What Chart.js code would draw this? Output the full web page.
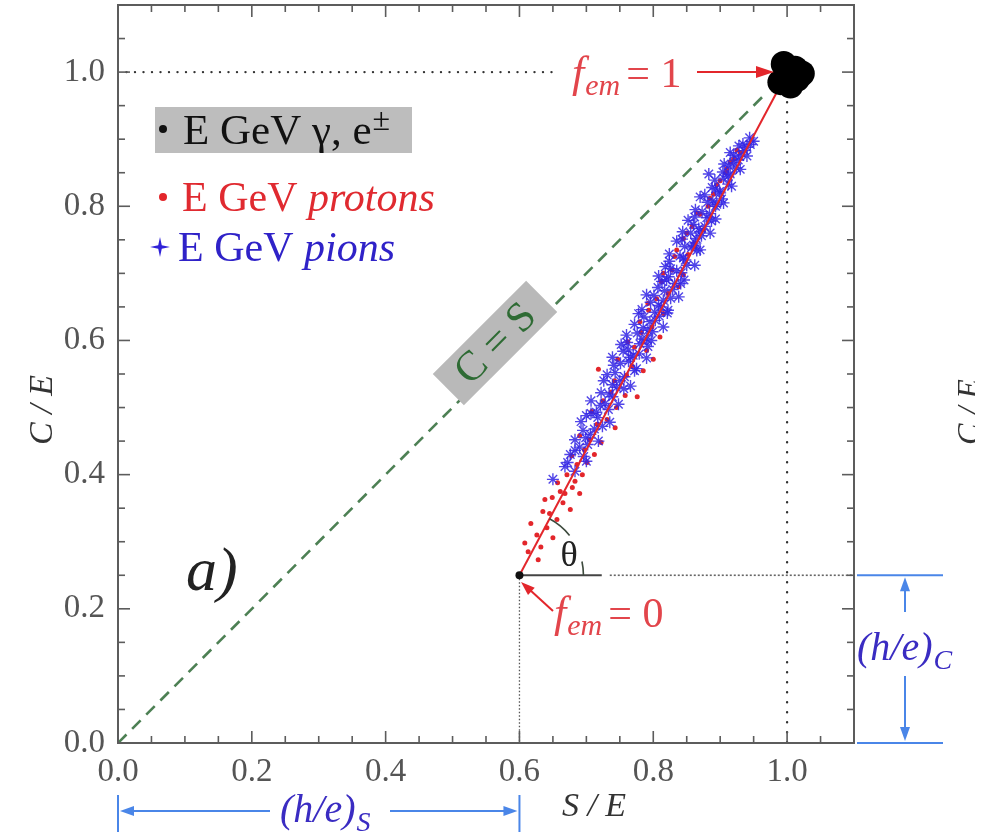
<!DOCTYPE html>
<html>
<head>
<meta charset="utf-8">
<script src="https://cdn.jsdelivr.net/npm/chart.js@4"></script>
<style>
  html, body { margin: 0; padding: 0; background: #fff; overflow: hidden; }
  canvas { display: block; }
</style>
</head>
<body>
<canvas id="chart" width="989" height="832"></canvas>
<script>
// ---- data ----
const xTicks = [0, 0.2, 0.4, 0.6, 0.8, 1.0];
const yTicks = [0, 0.2, 0.4, 0.6, 0.8, 1.0];

const emPoints = [[0.995,1.012],[1.012,1.005],[1.022,0.998],[0.99,0.985],[1.005,0.98],[0.998,0.998],[1.015,0.99]];

const protonPoints = [
  [0.628,0.273],[0.613,0.285],[0.632,0.292],[0.608,0.298],[0.650,0.306],[0.626,0.310],[0.641,0.321],[0.617,0.327],
  [0.656,0.333],[0.645,0.342],[0.635,0.345],[0.676,0.348],[0.665,0.358],[0.638,0.363],[0.649,0.366],[0.668,0.372],
  [0.690,0.372],[0.661,0.375],[0.679,0.381],[0.657,0.388],[0.683,0.390],[0.671,0.400],[0.694,0.400],[0.686,0.415],
  [0.701,0.418],[0.678,0.428],[0.712,0.430],[0.697,0.437],[0.722,0.448],[0.705,0.452],[0.690,0.458],[0.743,0.470],
  [0.716,0.475],[0.731,0.482],[0.708,0.494],[0.745,0.500],[0.725,0.510],[0.776,0.516],[0.758,0.518],[0.737,0.523],
  [0.742,0.540],[0.760,0.548],[0.785,0.555],[0.718,0.557],[0.768,0.562],[0.747,0.572],[0.800,0.572],[0.790,0.585],
  [0.772,0.590],[0.762,0.598],[0.810,0.605],[0.782,0.612],[0.798,0.620],[0.780,0.628],[0.815,0.640],[0.793,0.645],
  [0.792,0.655],[0.805,0.662],[0.822,0.670],[0.838,0.680],[0.812,0.688],[0.845,0.698],[0.815,0.700],[0.828,0.705],
  [0.832,0.725],[0.852,0.728],[0.835,0.735],[0.862,0.745],[0.845,0.752],[0.850,0.760],[0.875,0.765],[0.858,0.770],
  [0.870,0.788],[0.866,0.790],[0.882,0.800],[0.885,0.812],[0.890,0.818],[0.895,0.832],[0.900,0.838],[0.908,0.850],
  [0.910,0.856],[0.915,0.866],[0.920,0.870],[0.930,0.880],[0.925,0.884]
];

const pionPoints = [
  [0.650,0.393],[0.683,0.405],[0.672,0.418],[0.696,0.427],[0.683,0.436],[0.702,0.445],[0.683,0.452],[0.706,0.460],
  [0.695,0.466],[0.724,0.472],[0.692,0.479],[0.717,0.485],[0.707,0.491],[0.733,0.497],[0.721,0.503],[0.707,0.510],
  [0.739,0.516],[0.722,0.522],[0.756,0.528],[0.739,0.534],[0.726,0.540],[0.757,0.546],[0.743,0.552],[0.775,0.558],
  [0.741,0.563],[0.763,0.569],[0.739,0.575],[0.779,0.580],[0.763,0.586],[0.792,0.591],[0.761,0.597],[0.783,0.602],
  [0.760,0.608],[0.799,0.613],[0.785,0.619],[0.772,0.624],[0.803,0.630],[0.786,0.635],[0.821,0.641],[0.783,0.646],
  [0.808,0.652],[0.796,0.657],[0.826,0.663],[0.790,0.668],[0.817,0.674],[0.807,0.679],[0.841,0.685],[0.820,0.690],
  [0.808,0.696],[0.842,0.701],[0.826,0.707],[0.850,0.712],[0.824,0.718],[0.845,0.723],[0.824,0.729],[0.865,0.734],
  [0.847,0.740],[0.863,0.745],[0.843,0.751],[0.872,0.756],[0.844,0.762],[0.868,0.767],[0.860,0.773],[0.887,0.778],
  [0.862,0.784],[0.884,0.789],[0.863,0.795],[0.893,0.800],[0.881,0.806],[0.902,0.811],[0.877,0.817],[0.899,0.822],
  [0.888,0.828],[0.912,0.833],[0.892,0.839],[0.912,0.845],[0.904,0.851],[0.924,0.857],[0.906,0.863],[0.927,0.869],
  [0.920,0.876],[0.936,0.883],[0.928,0.890],[0.950,0.897],
  [0.668,0.412],[0.690,0.441],[0.712,0.468],[0.700,0.488],[0.728,0.506],[0.745,0.530],[0.731,0.549],[0.751,0.566],
  [0.770,0.578],[0.752,0.594],[0.776,0.611],[0.795,0.628],[0.778,0.640],[0.812,0.650],[0.801,0.667],[0.829,0.676],
  [0.813,0.688],[0.835,0.704],[0.818,0.710],[0.840,0.726],[0.857,0.738],[0.835,0.748],[0.856,0.760],[0.877,0.770],
  [0.852,0.779],[0.873,0.792],[0.889,0.808],[0.870,0.814],[0.893,0.826],[0.905,0.842],[0.883,0.848],[0.913,0.860],
  [0.929,0.874],[0.915,0.880],[0.940,0.888],[0.755,0.584],[0.790,0.602],[0.809,0.636],[0.823,0.695],[0.864,0.752],
  [0.700,0.420],[0.718,0.450],[0.735,0.478],[0.748,0.505],[0.766,0.532],[0.772,0.555],[0.790,0.574],[0.797,0.600],
  [0.815,0.620],[0.822,0.645],[0.838,0.665],[0.846,0.690],[0.862,0.712],[0.870,0.735],[0.885,0.760],[0.893,0.781],
  [0.905,0.805],[0.917,0.830],[0.930,0.855],[0.940,0.875],[0.945,0.892],
  [0.676,0.430],[0.699,0.455],[0.715,0.493],[0.734,0.520],[0.750,0.540],[0.766,0.575],[0.780,0.595],[0.792,0.615],
  [0.802,0.642],[0.815,0.660],[0.832,0.685],[0.848,0.720],[0.860,0.742],[0.870,0.762],[0.880,0.783],[0.895,0.803],
  [0.900,0.820],[0.915,0.848],[0.920,0.865],[0.934,0.893],[0.944,0.902]
];

const diagLine   = [[0,0],[0.965,0.965]];      // C = S
const fitLine    = [[0.6,0.25],[0.99,0.98]];   // f_em 0 -> 1
const baseLine   = [[0.6,0.25],[0.723,0.25]];
const hcDotted   = [[0.735,0.25],[1.1,0.25]];
const oneDotted  = [[0,1],[0.65,1]];
const xOneDotted = [[1,0.955],[1,0]];
const hsDotted   = [[0.6,0.25],[0.6,0]];
const originPt   = [[0.6,0.25]];

const xy = a => a.map(p => ({ x: p[0], y: p[1] }));

const RED = '#e3262b';
const BLUE = 'rgba(50,36,228,0.85)';
const SERIF = '"Liberation Serif", "DejaVu Serif", serif';
const ARROW_BLUE = '#4a86e8';
const TEXT_BLUE = '#3a2cc2';

// ---- helpers for the annotations ----
function richText(ctx, parts, x, y) {
  let cx = x;
  parts.forEach(p => {
    ctx.font = p.font;
    ctx.fillStyle = p.color;
    ctx.fillText(p.t, cx, y + (p.dy || 0));
    cx += ctx.measureText(p.t).width + (p.gap || 0);
  });
  return cx;
}

function arrowHead(ctx, tx, ty, fx, fy, len, half, color) {
  const a = Math.atan2(ty - fy, tx - fx);
  ctx.save();
  ctx.fillStyle = color;
  ctx.translate(tx, ty);
  ctx.rotate(a);
  ctx.beginPath();
  ctx.moveTo(0, 0);
  ctx.lineTo(-len, -half);
  ctx.lineTo(-len, half);
  ctx.closePath();
  ctx.fill();
  ctx.restore();
}

function seg(ctx, x1, y1, x2, y2) {
  ctx.beginPath();
  ctx.moveTo(x1, y1);
  ctx.lineTo(x2, y2);
  ctx.stroke();
}

const decor = {
  id: 'decor',
  afterDatasetsDraw(chart) {
    const ctx = chart.ctx;
    const xs = chart.scales.x, ys = chart.scales.y;
    const ca = chart.chartArea;
    const px = v => xs.getPixelForValue(v);
    const py = v => ys.getPixelForValue(v);

    ctx.save();

    // frame + inward ticks on all sides
    ctx.strokeStyle = '#5c5c5c';
    ctx.lineWidth = 2;
    ctx.strokeRect(ca.left, ca.top, ca.right - ca.left, ca.bottom - ca.top);
    ctx.lineWidth = 1.6;
    for (let i = 0; i <= 22; i++) {
      const v = i * 0.05;
      const L = i % 4 === 0 ? 12 : 7;
      const X = px(v), Y = py(v);
      seg(ctx, X, ca.bottom, X, ca.bottom - L);
      seg(ctx, X, ca.top, X, ca.top + L);
      seg(ctx, ca.left, Y, ca.left + L, Y);
      seg(ctx, ca.right, Y, ca.right - L, Y);
    }

    // axis titles
    ctx.fillStyle = '#333';
    ctx.textAlign = 'center';
    ctx.textBaseline = 'alphabetic';
    ctx.font = 'italic 34px ' + SERIF;
    ctx.fillText('S / E', 594, 816);
    ctx.save();
    ctx.translate(52, 410);
    ctx.rotate(-Math.PI / 2);
    ctx.fillText('C / E', 0, 0);
    ctx.restore();
    ctx.save();
    ctx.beginPath();
    ctx.rect(900, 300, 75, 200);
    ctx.clip();
    ctx.translate(979, 412);
    ctx.rotate(-Math.PI / 2);
    ctx.font = 'italic 32px ' + SERIF;
    ctx.fillText('C / E', 0, 0);
    ctx.restore();

    // legend block
    ctx.textAlign = 'left';
    ctx.fillStyle = '#bdbdbd';
    ctx.fillRect(155, 107, 257, 46);
    ctx.fillStyle = '#111';
    ctx.beginPath(); ctx.arc(163, 129, 4, 0, Math.PI * 2); ctx.fill();
    const e1 = richText(ctx, [{ t: 'E GeV \u03b3, e', font: '43px ' + SERIF, color: '#111' }], 183, 144);
    richText(ctx, [{ t: '\u00b1', font: '32px ' + SERIF, color: '#111' }], e1 + 1, 130);

    ctx.fillStyle = RED;
    ctx.beginPath(); ctx.arc(163, 197, 4, 0, Math.PI * 2); ctx.fill();
    richText(ctx, [
      { t: 'E GeV ', font: '42px ' + SERIF, color: '#e02a30' },
      { t: 'protons', font: 'italic 42px ' + SERIF, color: '#e02a30' }
    ], 182, 211);

    ctx.fillStyle = '#2f22d8';
    ctx.beginPath();
    const sx = 160, sy = 247, r1 = 10, r2 = 2.5;
    for (let k = 0; k < 8; k++) {
      const rr = k % 2 === 0 ? r1 : r2;
      const a = -Math.PI / 2 + k * Math.PI / 4;
      const X = sx + rr * Math.cos(a), Y = sy + rr * Math.sin(a);
      k === 0 ? ctx.moveTo(X, Y) : ctx.lineTo(X, Y);
    }
    ctx.closePath(); ctx.fill();
    richText(ctx, [
      { t: 'E GeV ', font: '42px ' + SERIF, color: '#2f22c8' },
      { t: 'pions', font: 'italic 42px ' + SERIF, color: '#2f22c8' }
    ], 178, 261);

    // C = S tag on the diagonal
    ctx.save();
    ctx.translate(495, 343);
    ctx.rotate(-Math.PI / 4);
    ctx.fillStyle = '#b9b9b9';
    ctx.fillRect(-66, -22, 132, 44);
    ctx.fillStyle = '#2e6b34';
    ctx.textAlign = 'center';
    ctx.textBaseline = 'middle';
    ctx.font = '42px ' + SERIF;
    ctx.fillText('C = S', 0, 2);
    ctx.restore();

    // a)
    ctx.fillStyle = '#222';
    ctx.textAlign = 'left';
    ctx.textBaseline = 'alphabetic';
    ctx.font = 'italic 62px ' + SERIF;
    ctx.fillText('a)', 186, 590);

    // theta and its arc
    const ox = px(0.6), oy = py(0.25);
    const ang = Math.atan2(py(1) - oy, px(1) - ox);
    ctx.strokeStyle = '#3d4a3d';
    ctx.lineWidth = 1.6;
    ctx.beginPath(); ctx.arc(ox, oy, 64, ang, ang * 0.62); ctx.stroke();
    ctx.beginPath(); ctx.arc(ox, oy, 64, ang * 0.2, 0); ctx.stroke();
    ctx.fillStyle = '#222';
    ctx.font = '36px ' + SERIF;
    ctx.textAlign = 'center';
    ctx.fillText('\u03b8', 569, 566);

    // f_em = 1 label and arrow
    ctx.textAlign = 'left';
    const txtRed = '#e2454b';
    richText(ctx, [
      { t: 'f', font: 'italic 44px ' + SERIF, color: txtRed, gap: 1 },
      { t: 'em', font: 'italic 30px ' + SERIF, color: txtRed, dy: 8, gap: 6 },
      { t: '= 1', font: '42px ' + SERIF, color: txtRed }
    ], 572, 87);
    ctx.strokeStyle = RED;
    ctx.lineWidth = 2;
    seg(ctx, 697, py(1), 760, py(1));
    arrowHead(ctx, 774, py(1), 697, py(1), 18, 6, RED);

    // f_em = 0 label and arrow
    richText(ctx, [
      { t: 'f', font: 'italic 44px ' + SERIF, color: txtRed, gap: 1 },
      { t: 'em', font: 'italic 30px ' + SERIF, color: txtRed, dy: 8, gap: 6 },
      { t: '= 0', font: '42px ' + SERIF, color: txtRed }
    ], 554, 627);
    seg(ctx, 553, 611, 530, 590);
    arrowHead(ctx, 521, 582, 553, 611, 14, 5, RED);

    // (h/e)_S span under the x axis
    const ya = 811;
    ctx.strokeStyle = ARROW_BLUE;
    ctx.lineWidth = 2;
    seg(ctx, px(0), 795, px(0), 832);
    seg(ctx, px(0.6), 795, px(0.6), 832);
    seg(ctx, px(0) + 10, ya, 270, ya);
    seg(ctx, 390, ya, px(0.6) - 10, ya);
    arrowHead(ctx, px(0) + 2, ya, 200, ya, 14, 5, ARROW_BLUE);
    arrowHead(ctx, px(0.6) - 2, ya, 450, ya, 14, 5, ARROW_BLUE);
    richText(ctx, [
      { t: '(h/e)', font: 'italic 40px ' + SERIF, color: TEXT_BLUE, gap: 1 },
      { t: 'S', font: 'italic 28px ' + SERIF, color: TEXT_BLUE, dy: 9 }
    ], 280, 822);

    // (h/e)_C span right of the plot
    const yTop = py(0.25), yBot = py(0);
    seg(ctx, 857, yTop, 943, yTop);
    seg(ctx, 857, yBot, 943, yBot);
    seg(ctx, 905, yTop + 10, 905, 612);
    seg(ctx, 905, 676, 905, yBot - 10);
    arrowHead(ctx, 905, yTop + 2, 905, 640, 14, 5, ARROW_BLUE);
    arrowHead(ctx, 905, yBot - 2, 905, 700, 14, 5, ARROW_BLUE);
    richText(ctx, [
      { t: '(h/e)', font: 'italic 40px ' + SERIF, color: TEXT_BLUE, gap: 1 },
      { t: 'C', font: 'italic 28px ' + SERIF, color: TEXT_BLUE, dy: 9 }
    ], 857, 660);

    ctx.restore();
  }
};

const ctx = document.getElementById('chart').getContext('2d');
new Chart(ctx, {
  type: 'scatter',
  data: {
    datasets: [
      { label: 'gamma, e', data: xy(emPoints), pointRadius: 13, pointBackgroundColor: '#000', pointBorderWidth: 0 },
      { label: 'origin', data: xy(originPt), pointRadius: 4, pointBackgroundColor: '#111', pointBorderWidth: 0 },
      { label: 'fit', data: xy(fitLine), showLine: true, borderColor: RED, borderWidth: 2, pointRadius: 0 },
      { label: 'pions', data: xy(pionPoints), pointStyle: 'star', pointRadius: 6, borderColor: BLUE, pointBorderColor: BLUE, pointBorderWidth: 1.4, pointBackgroundColor: BLUE },
      { label: 'protons', data: xy(protonPoints), pointRadius: 2.5, pointBackgroundColor: RED, pointBorderWidth: 0 },
      { label: 'base', data: xy(baseLine), showLine: true, borderColor: '#444', borderWidth: 2.2, pointRadius: 0 },
      { label: 'hc', data: xy(hcDotted), showLine: true, borderColor: '#666', borderWidth: 1.6, borderDash: [2, 2], pointRadius: 0 },
      { label: 'hs', data: xy(hsDotted), showLine: true, borderColor: '#555', borderWidth: 1.3, borderDash: [1.5, 2], pointRadius: 0 },
      { label: 'one', data: xy(oneDotted), showLine: true, borderColor: '#333', borderWidth: 2.4, borderDash: [0, 8.5], borderCapStyle: 'round', pointRadius: 0 },
      { label: 'xone', data: xy(xOneDotted), showLine: true, borderColor: '#333', borderWidth: 2.4, borderDash: [0, 10], borderCapStyle: 'round', pointRadius: 0 },
      { label: 'C = S', data: xy(diagLine), showLine: true, borderColor: '#4d8054', borderWidth: 2.6, borderDash: [12, 8], pointRadius: 0 }
    ]
  },
  options: {
    responsive: false,
    animation: false,
    devicePixelRatio: 1,
    layout: { autoPadding: false, padding: { left: 0, top: 5, right: 135, bottom: 0 } },
    plugins: { legend: { display: false }, tooltip: { enabled: false } },
    scales: {
      x: {
        type: 'linear', min: 0, max: 1.1,
        afterBuildTicks: s => { s.ticks = xTicks.map(v => ({ value: v })); },
        afterFit: s => { s.height = 89; s.paddingLeft = 0; s.paddingRight = 0; },
        grid: { display: false, drawTicks: false },
        border: { display: false },
        ticks: {
          padding: 10, color: '#555', autoSkip: false, maxRotation: 0,
          font: { family: SERIF, size: 33 },
          callback: v => v.toFixed(1)
        }
      },
      y: {
        type: 'linear', min: 0, max: 1.1,
        afterBuildTicks: s => { s.ticks = yTicks.map(v => ({ value: v })); },
        afterFit: s => { s.width = 118; s.paddingTop = 0; s.paddingBottom = 0; },
        grid: { display: false, drawTicks: false },
        border: { display: false },
        ticks: {
          padding: 13, color: '#555', autoSkip: false,
          font: { family: SERIF, size: 33 },
          callback: v => v.toFixed(1)
        }
      }
    }
  },
  plugins: [decor]
});
</script>
</body>
</html>
